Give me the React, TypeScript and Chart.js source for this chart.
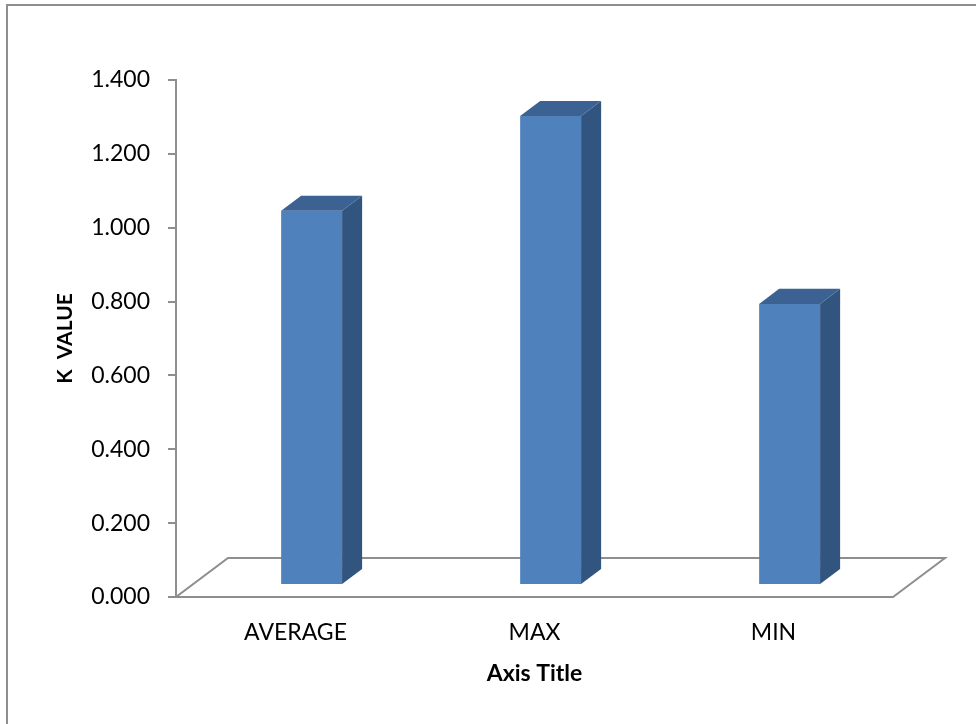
import React, { useEffect, useRef } from "react";
import { Chart, registerables } from "chart.js";

Chart.register(...registerables);

// Chart data
const categories: string[] = ["AVERAGE", "MAX", "MIN"];
const kValues: number[] = [1.013, 1.27, 0.761];
const yTickMin = 0;
const yTickMax = 1.4;
const yTickStep = 0.2;
const xAxisTitle = "Axis Title";
const yAxisTitle = "K  VALUE";

// Styling
const FRONT = "#4F81BD";
const SIDE = "#325580";
const TOP = "#3B6293";
const LINE = "#8E8E8E";
const FONT = "Lato, 'Open Sans', sans-serif";

// Oblique 3D projection of the floor depth
const DEPTH = { dx: 52, dy: -39 };
const BAR_FRONT = 0.31; // bar front face position within the depth
const BAR_DEPTH = 0.385; // bar thickness as a share of the depth

const threeD = {
  id: "threeD",
  beforeDraw(chart: any) {
    const { ctx, width, height } = chart;
    ctx.save();
    ctx.fillStyle = "#fff";
    ctx.fillRect(0, 0, width, height);
    // outer frame (top and left edges)
    ctx.strokeStyle = LINE;
    ctx.lineWidth = 2;
    ctx.beginPath();
    ctx.moveTo(width, 5);
    ctx.lineTo(7, 5);
    ctx.lineTo(7, height);
    ctx.stroke();
    ctx.restore();
  },
  beforeDatasetsDraw(chart: any) {
    const { ctx, chartArea } = chart;
    const { left, right, bottom } = chartArea;
    // floor
    ctx.save();
    ctx.strokeStyle = LINE;
    ctx.lineWidth = 2;
    ctx.lineJoin = "miter";
    ctx.beginPath();
    ctx.moveTo(left, bottom);
    ctx.lineTo(right, bottom);
    ctx.lineTo(right + DEPTH.dx, bottom + DEPTH.dy);
    ctx.lineTo(left + DEPTH.dx, bottom + DEPTH.dy);
    ctx.closePath();
    ctx.stroke();
    // zero tick continues the floor front edge
    ctx.beginPath();
    ctx.moveTo(left - 8, bottom);
    ctx.lineTo(left, bottom);
    ctx.stroke();
    ctx.restore();
    // shift the bar plane back into the floor depth
    ctx.save();
    ctx.translate(DEPTH.dx * BAR_FRONT, DEPTH.dy * BAR_FRONT);
  },
  afterDatasetsDraw(chart: any) {
    const { ctx } = chart;
    const bdx = DEPTH.dx * BAR_DEPTH;
    const bdy = DEPTH.dy * BAR_DEPTH;
    chart.getDatasetMeta(0).data.forEach((bar: any) => {
      const { x, y, base, width } = bar.getProps(["x", "y", "base", "width"], true);
      const l = x - width / 2;
      const r = x + width / 2;
      // side face
      ctx.fillStyle = SIDE;
      ctx.beginPath();
      ctx.moveTo(r, y);
      ctx.lineTo(r + bdx, y + bdy);
      ctx.lineTo(r + bdx, base + bdy);
      ctx.lineTo(r, base);
      ctx.closePath();
      ctx.fill();
      // top face
      ctx.fillStyle = TOP;
      ctx.beginPath();
      ctx.moveTo(l, y);
      ctx.lineTo(r, y);
      ctx.lineTo(r + bdx, y + bdy);
      ctx.lineTo(l + bdx, y + bdy);
      ctx.closePath();
      ctx.fill();
    });
    ctx.restore();
  },
};

export default function App() {
  const canvasRef = useRef<HTMLCanvasElement | null>(null);

  useEffect(() => {
    const canvas = canvasRef.current;
    if (!canvas) return;
    const chart = new Chart(canvas, {
      type: "bar",
      data: {
        labels: categories,
        datasets: [
          {
            data: kValues,
            backgroundColor: FRONT,
            borderWidth: 0,
            categoryPercentage: 1,
            barPercentage: 0.255,
            clip: false as any,
          },
        ],
      },
      options: {
        responsive: false,
        animation: false,
        devicePixelRatio: 1,
        layout: { padding: { left: 0, top: 80, right: 83, bottom: 0 } },
        plugins: {
          legend: { display: false },
          tooltip: { enabled: false },
        },
        scales: {
          x: {
            grid: { display: false },
            border: { display: false },
            ticks: {
              color: "#000",
              font: { family: FONT, size: 23 },
              padding: 14,
              maxRotation: 0,
            },
            title: {
              display: true,
              text: xAxisTitle,
              color: "#000",
              font: { family: FONT, size: 23, weight: "bold" },
              padding: { top: 0, bottom: 37 },
            },
            afterFit(scale: any) {
              scale.height = 127;
            },
          },
          y: {
            min: yTickMin,
            max: yTickMax,
            ticks: {
              stepSize: yTickStep,
              color: "#000",
              font: { family: FONT, size: 23 },
              padding: 18,
              callback: (v: any) => Number(v).toFixed(3),
            },
            grid: {
              drawOnChartArea: false,
              drawTicks: true,
              tickLength: 8,
              color: LINE,
              lineWidth: 2,
            },
            border: { display: true, color: LINE, width: 2 },
            title: {
              display: true,
              text: yAxisTitle,
              color: "#000",
              font: { family: FONT, size: 21, weight: "bold" },
              padding: { top: 53, bottom: 0 },
            },
            afterFit(scale: any) {
              scale.width = 176;
            },
          },
        },
      },
      plugins: [threeD],
    });
    return () => chart.destroy();
  }, []);

  return (
    <div style={{ position: "fixed", left: 0, top: 0, width: 976, height: 724, background: "#fff" }}>
      <canvas ref={canvasRef} width={976} height={724} />
    </div>
  );
}
